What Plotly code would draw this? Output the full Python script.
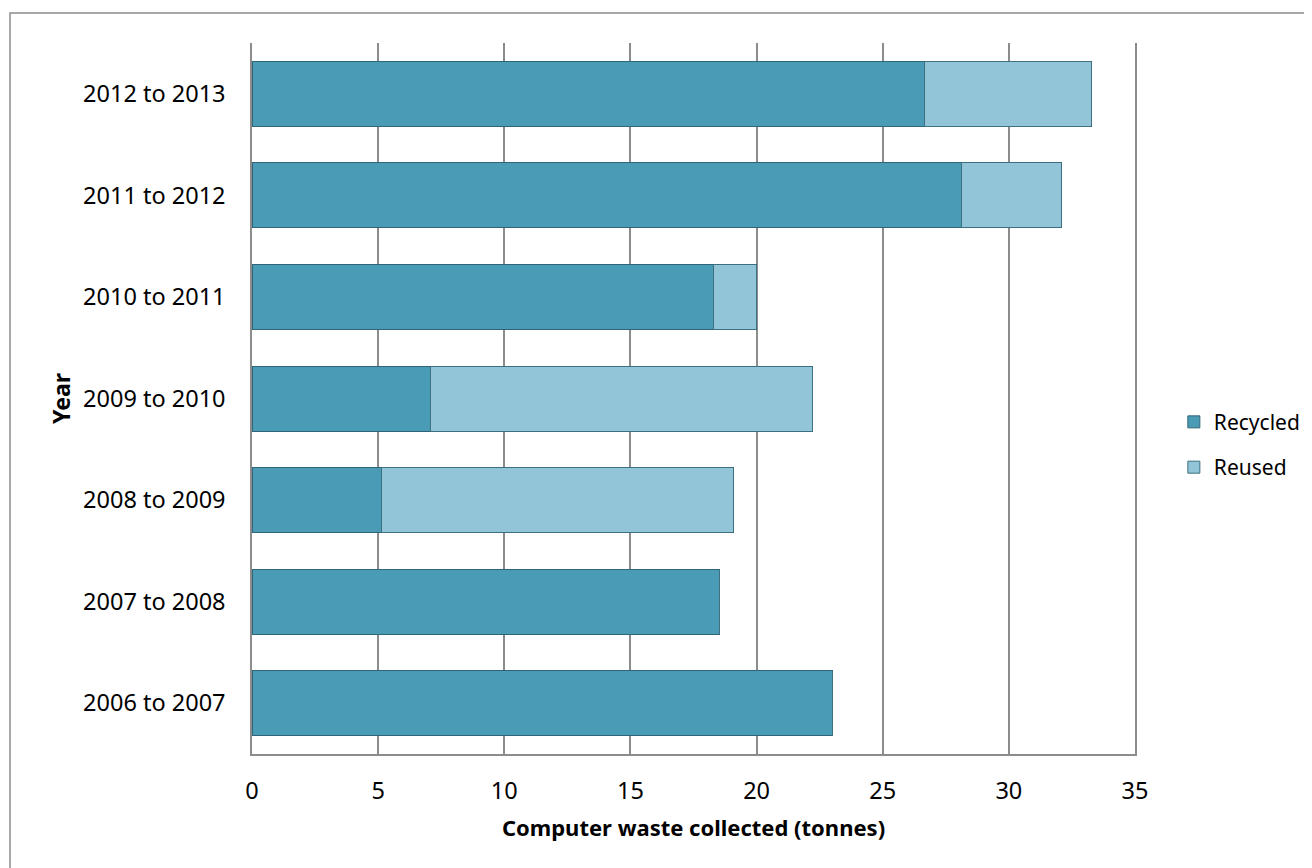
import plotly.graph_objects as go

years = ["2006 to 2007", "2007 to 2008", "2008 to 2009", "2009 to 2010",
         "2010 to 2011", "2011 to 2012", "2012 to 2013"]
recycled = [23.0, 18.54, 5.12, 7.09, 18.31, 28.12, 26.64]
reused = [0, 0, 13.97, 15.11, 1.69, 3.97, 6.64]
x_ticks = [0, 5, 10, 15, 20, 25, 30, 35]

FONT = "Noto Sans"

fig = go.Figure()
fig.add_trace(go.Bar(
    y=years, x=recycled, orientation="h", name="Recycled",
    legendgroup="a",
    marker=dict(color="#4A9CB6", line=dict(color="#2F6576", width=1)),
))
fig.add_trace(go.Bar(
    y=years, x=reused, orientation="h", name="Reused",
    legendgroup="b",
    marker=dict(color="#93C5D9", line=dict(color="#3D6F7E", width=1)),
))

fig.update_layout(
    width=1304, height=860,
    barmode="stack", bargap=0.36,
    paper_bgcolor="white", plot_bgcolor="white",
    margin=dict(l=244, r=177, t=35, b=114, autoexpand=False),
    font=dict(family=FONT, size=22, color="black"),
    showlegend=True,
    legend=dict(
        x=1.044, y=0.435, xanchor="left", yanchor="middle",
        traceorder="grouped", tracegroupgap=15,
        font=dict(family=FONT, size=21, color="black"),
        itemwidth=30, borderwidth=0,
    ),
    xaxis=dict(
        range=[0, 35], tickvals=x_ticks,
        showgrid=True, gridcolor="#8C8C8C", gridwidth=1.5,
        zeroline=False, showline=True, linecolor="#8C8C8C", linewidth=1.5,
        ticks="", ticklabelstandoff=15,
        tickfont=dict(family=FONT, size=23.5),
        title=dict(text="<b>Computer waste collected (tonnes)</b>",
                   font=dict(family=FONT, size=22), standoff=16),
        fixedrange=True, automargin=False,
    ),
    yaxis=dict(
        type="category", categoryorder="array", categoryarray=years,
        showgrid=False, zeroline=False,
        showline=True, mirror=True, linecolor="#8C8C8C", linewidth=1.5,
        ticks="", ticklabelstandoff=20,
        tickfont=dict(family=FONT, size=23.5),
        title=dict(text="<b>Year</b>", font=dict(family=FONT, size=23), standoff=6),
        fixedrange=True, automargin=False,
    ),
    shapes=[dict(type="rect", xref="paper", yref="paper",
                 x0=-242 / 883, x1=1.25, y0=-0.3, y1=1 + 30 / 711,
                 line=dict(color="#8C8C8C", width=1.5), layer="below")],
)

fig.write_html("out.html")
